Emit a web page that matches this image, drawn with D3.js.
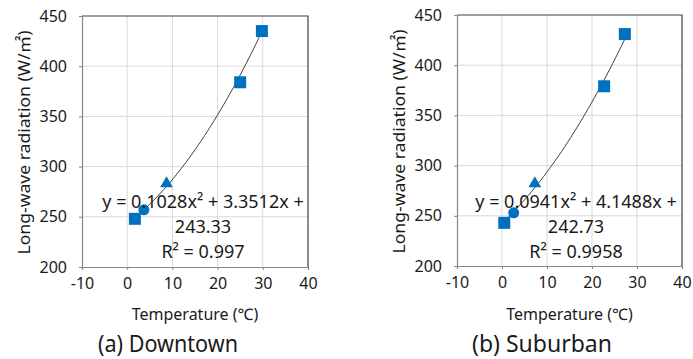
<!DOCTYPE html>
<html>
<head>
<meta charset="utf-8">
<script src="https://cdn.jsdelivr.net/npm/d3@7"></script>
<style>
  body { margin: 0; background: #fff; }
  text { font-family: "Noto Sans", "Noto Sans CJK KR", sans-serif; fill: #1a1a1a; }
</style>
</head>
<body>
<div id="chart"></div>
<script>
// data
const xTicks = [-10, 0, 10, 20, 30, 40];
const yTicks = [200, 250, 300, 350, 400, 450];

const downtownSquares = [[1.7, 248], [25.0, 384], [29.8, 435]];
const downtownCircle = [[3.7, 257]];
const downtownTriangle = [[8.7, 283]];
const downtownCoef = [0.1028, 3.3512, 243.33];
const downtownEq = ['y = 0.1028x² + 3.3512x +', '243.33', 'R² = 0.997'];

const suburbanSquares = [[0.5, 243], [22.7, 379], [27.3, 431]];
const suburbanCircle = [[2.6, 253]];
const suburbanTriangle = [[7.3, 282]];
const suburbanCoef = [0.0941, 4.1488, 242.73];
const suburbanEq = ['y = 0.0941x² + 4.1488x +', '242.73', 'R² = 0.9958'];

const panels = [
  { left: 82, right: 308, top: 16, bottom: 267, title: '(a) Downtown', titleX: 168,
    squares: downtownSquares, circle: downtownCircle, triangle: downtownTriangle,
    coef: downtownCoef, eq: downtownEq, eqX: 203 },
  { left: 457, right: 682, top: 15, bottom: 266, title: '(b) Suburban', titleX: 542,
    squares: suburbanSquares, circle: suburbanCircle, triangle: suburbanTriangle,
    coef: suburbanCoef, eq: suburbanEq, eqX: 576 }
];

const blue = '#0070c0';

const svg = d3.select('#chart').append('svg')
  .attr('width', 693)
  .attr('height', 359);

panels.forEach(p => {
  const x = d3.scaleLinear().domain([-10, 40]).range([p.left, p.right]);
  const y = d3.scaleLinear().domain([200, 450]).range([p.bottom, p.top]);
  const g = svg.append('g');

  // gridlines
  g.selectAll('.vgrid').data(xTicks.slice(1, -1)).enter().append('line')
    .attr('x1', d => x(d)).attr('x2', d => x(d))
    .attr('y1', p.top).attr('y2', p.bottom)
    .attr('stroke', '#d9d9d9').attr('stroke-width', 1);
  g.selectAll('.hgrid').data(yTicks.slice(1, -1)).enter().append('line')
    .attr('x1', p.left).attr('x2', p.right)
    .attr('y1', d => y(d)).attr('y2', d => y(d))
    .attr('stroke', '#d9d9d9').attr('stroke-width', 1);

  // frame: top/right dark, axes gray
  g.append('path')
    .attr('d', `M${p.left},${p.top}H${p.right}V${p.bottom}`)
    .attr('fill', 'none').attr('stroke', '#404040').attr('stroke-width', 1.2);

  const xAxis = g.append('g')
    .attr('transform', `translate(0,${p.bottom})`)
    .call(d3.axisBottom(x).tickValues(xTicks).tickFormat(d => String(d)).tickSize(3).tickPadding(8));
  const yAxis = g.append('g')
    .attr('transform', `translate(${p.left},0)`)
    .call(d3.axisLeft(y).tickValues(yTicks).tickFormat(d => String(d)).tickSize(3).tickPadding(12));
  [xAxis, yAxis].forEach(a => {
    a.select('.domain').attr('stroke', '#868686').attr('stroke-width', 1.2);
    a.selectAll('.tick line').attr('stroke', '#868686');
    a.selectAll('.tick text').attr('font-size', 16).attr('fill', '#1a1a1a')
      .style('font-family', '"Noto Sans", sans-serif');
  });

  // axis titles
  g.append('text')
    .attr('x', (p.left + p.right) / 2).attr('y', 320)
    .attr('text-anchor', 'middle').attr('font-size', 16)
    .text('Temperature (℃)');
  g.append('text')
    .attr('transform', `translate(${p.left - 52},${(p.top + p.bottom) / 2 + 1}) rotate(-90)`)
    .attr('text-anchor', 'middle').attr('font-size', 17)
    .attr('textLength', 224).attr('lengthAdjust', 'spacingAndGlyphs')
    .text('Long-wave radiation (W/㎡)');

  // panel caption
  g.append('text')
    .attr('x', p.titleX).attr('y', 352)
    .attr('text-anchor', 'middle').attr('font-size', 23)
    .attr('textLength', 140).attr('lengthAdjust', 'spacingAndGlyphs')
    .text(p.title);

  // trendline from the fitted polynomial
  const xs = p.squares.concat(p.circle, p.triangle).map(d => d[0]);
  const x0 = d3.min(xs), x1 = d3.max(xs);
  const curve = d3.range(0, 41).map(i => {
    const t = x0 + (x1 - x0) * i / 40;
    return [t, p.coef[0] * t * t + p.coef[1] * t + p.coef[2]];
  });
  g.append('path')
    .datum(curve)
    .attr('d', d3.line().x(d => x(d[0])).y(d => y(d[1])))
    .attr('fill', 'none').attr('stroke', '#404040').attr('stroke-width', 1);

  // markers
  g.selectAll('.sq').data(p.squares).enter().append('rect')
    .attr('x', d => x(d[0]) - 6).attr('y', d => y(d[1]) - 6)
    .attr('width', 12).attr('height', 12)
    .attr('fill', blue);
  g.selectAll('.ci').data(p.circle).enter().append('circle')
    .attr('cx', d => x(d[0])).attr('cy', d => y(d[1]))
    .attr('r', 5.5).attr('fill', blue);
  g.selectAll('.tr').data(p.triangle).enter().append('path')
    .attr('transform', d => `translate(${x(d[0])},${y(d[1])})`)
    .attr('d', d3.symbol().type(d3.symbolTriangle).size(70))
    .attr('fill', blue);

  // equation label
  g.selectAll('.eq').data(p.eq).enter().append('text')
    .attr('x', p.eqX).attr('y', (d, i) => 208 + i * 25)
    .attr('text-anchor', 'middle').attr('font-size', 18)
    .text(d => d);
});
</script>
</body>
</html>
